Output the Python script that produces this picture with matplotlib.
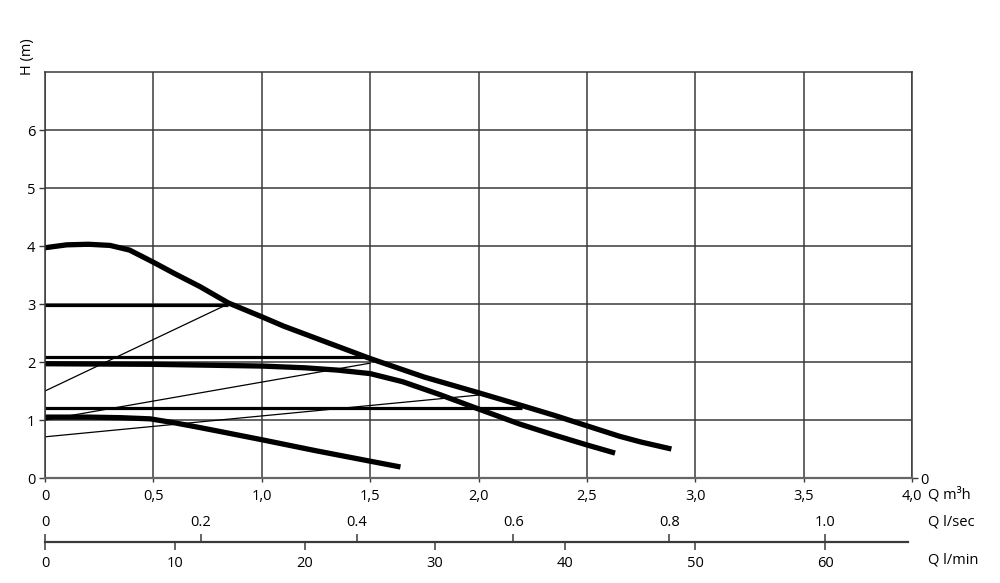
import matplotlib.pyplot as plt

plt.rcParams['font.family'] = ['Open Sans', 'DejaVu Sans']

# pump curves, Q in m3/h, H in m
qa = [0, 0.1, 0.2, 0.3, 0.39, 0.5, 0.6, 0.715, 0.845, 1.0, 1.1, 1.2, 1.35, 1.5, 1.75, 2.0,
      2.19, 2.35, 2.5, 2.65, 2.75, 2.89]
ha = [3.97, 4.02, 4.03, 4.01, 3.93, 3.72, 3.52, 3.3, 3.02, 2.78, 2.62, 2.48, 2.27, 2.06, 1.74,
      1.47, 1.26, 1.08, 0.9, 0.72, 0.62, 0.5]
qb = [0, 0.5, 1.0, 1.2, 1.35, 1.5, 1.65, 1.82, 2.0, 2.19, 2.35, 2.5, 2.63]
hb = [1.97, 1.96, 1.93, 1.9, 1.86, 1.8, 1.66, 1.44, 1.19, 0.93, 0.74, 0.57, 0.43]
qc = [0, 0.2, 0.35, 0.485, 0.6, 0.7, 0.81, 1.0, 1.25, 1.5, 1.64]
hc = [1.05, 1.05, 1.04, 1.02, 0.95, 0.88, 0.8, 0.66, 0.47, 0.29, 0.19]

# constant pressure lines (H, Q end)
const_h = [2.98, 2.08, 1.21]
const_q = [0.845, 1.5, 2.2]
# proportional pressure lines ((q0, q1), (h0, h1))
prop_q = [(0, 0.845), (0, 1.5), (0, 2.0)]
prop_h = [(1.5, 3.0), (1.0, 1.98), (0.71, 1.43)]

m3h_ticks = [0, 0.5, 1.0, 1.5, 2.0, 2.5, 3.0, 3.5, 4.0]
m3h_labels = ['0', '0,5', '1,0', '1,5', '2,0', '2,5', '3,0', '3,5', '4,0']
lsec_ticks = [0, 0.2, 0.4, 0.6, 0.8, 1.0]
lmin_ticks = [0, 10, 20, 30, 40, 50, 60]

grid_c = '#3a3a3a'
fig = plt.figure(figsize=(10, 5.83), dpi=100)
ax = fig.add_axes([0.045, 0.1801, 0.867, 0.6964])
ax.set_xlim(0, 4)
ax.set_ylim(0, 7)
ax.set_xticks(m3h_ticks)
ax.set_xticklabels(m3h_labels)
ax.set_yticks(range(0, 7))
ax.grid(True, color=grid_c, lw=1.1)
for s in ax.spines.values():
    s.set_color(grid_c)
    s.set_linewidth(1.1)
ax.spines['bottom'].set_color('#666666')
ax.spines['bottom'].set_linewidth(1.6)
ax.tick_params(axis='y', length=4, width=1, pad=3, labelsize=10.5, color=grid_c)
ax.tick_params(axis='x', length=3, width=1, pad=5, labelsize=10.5, color=grid_c)

for h, q in zip(const_h, const_q):
    ax.plot([0, q], [h, h], color='black', lw=2.3, solid_capstyle='butt')
for q, h in zip(prop_q, prop_h):
    ax.plot(q, h, color='black', lw=0.9)
for q, h in [(qa, ha), (qb, hb), (qc, hc)]:
    ax.plot(q, h, color='black', lw=3.8, solid_capstyle='butt', solid_joinstyle='round')

# "0" at the right end of the H axis
sec = ax.secondary_yaxis('right')
sec.set_yticks([0])
sec.tick_params(length=4, width=1, pad=2, labelsize=10.5, color=grid_c)
sec.spines['right'].set_visible(False)

fig.text(0.028, 1 - 57 / 583, 'H (m)', rotation=90, ha='center', va='center', fontsize=10.5)
fig.text(0.928, 1 - 495 / 583, 'Q m³h', ha='left', va='center', fontsize=10.5)
fig.text(0.928, 1 - 522 / 583, 'Q l/sec', ha='left', va='center', fontsize=10.5)
fig.text(0.928, 1 - 560 / 583, 'Q l/min', ha='left', va='center', fontsize=10.5)

# l/sec labels (1 l/s = 3.6 m3/h)
ax_s = fig.add_axes([0.045, 1 - 515 / 583, 0.867, 0.001])
ax_s.set_xlim(0, 4)
ax_s.patch.set_visible(False)
for s in ax_s.spines.values():
    s.set_visible(False)
ax_s.set_yticks([])
ax_s.set_xticks([v * 3.6 for v in lsec_ticks])
ax_s.set_xticklabels(['%.1f' % v if v else '0' for v in lsec_ticks])
ax_s.tick_params(axis='x', length=0, pad=0, labelsize=10.5)

# l/min scale line (1 l/min = 0.06 m3/h), l/sec ticks point up
ax_m = fig.add_axes([0.045, 1 - 542 / 583, 0.867, 0.001])
ax_m.set_xlim(0, 4)
ax_m.patch.set_visible(False)
for k in ['top', 'left', 'right']:
    ax_m.spines[k].set_visible(False)
ax_m.spines['bottom'].set_bounds(0, 3.98)
ax_m.spines['bottom'].set_color(grid_c)
ax_m.spines['bottom'].set_linewidth(1.6)
ax_m.set_yticks([])
ax_m.xaxis.remove_overlapping_locs = False
ax_m.set_xticks([v * 0.06 for v in lmin_ticks])
ax_m.set_xticklabels([str(v) for v in lmin_ticks])
ax_m.set_xticks([v * 3.6 for v in lsec_ticks], minor=True)
ax_m.tick_params(axis='x', which='major', direction='out', length=6, width=1.1, pad=4,
                 labelsize=10.5, color=grid_c)
ax_m.tick_params(axis='x', which='minor', direction='in', length=6, width=1.1, color=grid_c)

fig.savefig('out.png', dpi=100)
